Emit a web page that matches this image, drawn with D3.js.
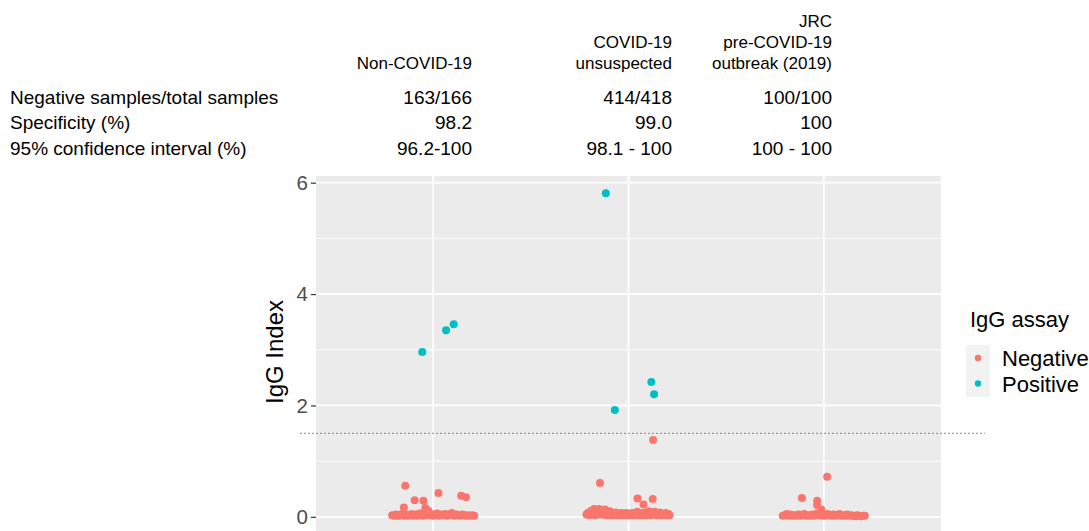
<!DOCTYPE html>
<html>
<head>
<meta charset="utf-8">
<script src="https://cdn.jsdelivr.net/npm/d3@7"></script>
<style>
  body { margin: 0; background: #fff; }
  svg { display: block; font-family: "Liberation Sans", Arial, Helvetica, sans-serif; }
</style>
</head>
<body>
<svg id="chart"></svg>
<script>
const width = 1089;
const height = 531;

// groups and the table above the plot
const groups = ['Non-COVID-19', 'COVID-19 unsuspected', 'JRC pre-COVID-19 outbreak (2019)'];
const groupHeaders = [['Non-COVID-19'], ['COVID-19', 'unsuspected'], ['JRC', 'pre-COVID-19', 'outbreak (2019)']];
const rowLabels = ['Negative samples/total samples', 'Specificity (%)', '95% confidence interval (%)'];
const negTotal = ['163/166', '414/418', '100/100'];
const specificity = ['98.2', '99.0', '100'];
const confInterval = ['96.2-100', '98.1 - 100', '100 - 100'];

const yTicks = [0, 2, 4, 6];
const yMinor = [1, 3, 5];
const cutoff = 1.5;
const assays = ['Negative', 'Positive'];
const assayColors = ['#F8766D', '#00BFC4'];

// [jitter offset (in category units), IgG index]
const nonCovidNeg = [
  [-0.143, 0.56], [-0.095, 0.30], [-0.05, 0.29], [0.027, 0.43], [0.143, 0.38], [0.168, 0.35],
  [-0.15, 0.17], [-0.04, 0.16], [-0.025, 0.11],
  [-0.21, 0.03], [-0.2, 0.02], [-0.19, 0.04], [-0.18, 0.02], [-0.17, 0.03], [-0.16, 0.05],
  [-0.15, 0.02], [-0.14, 0.04], [-0.13, 0.02], [-0.12, 0.03], [-0.11, 0.05], [-0.1, 0.02],
  [-0.09, 0.04], [-0.08, 0.02], [-0.07, 0.06], [-0.06, 0.03], [-0.05, 0.02], [-0.045, 0.08],
  [-0.035, 0.04], [-0.03, 0.07], [-0.02, 0.03], [-0.01, 0.05], [0, 0.02], [0.01, 0.04],
  [0.02, 0.06], [0.03, 0.02], [0.04, 0.04], [0.05, 0.03], [0.06, 0.05], [0.07, 0.02],
  [0.08, 0.04], [0.095, 0.07], [0.1, 0.03], [0.11, 0.02], [0.12, 0.04], [0.13, 0.03],
  [0.14, 0.02], [0.15, 0.04], [0.16, 0.03], [0.17, 0.02], [0.18, 0.03], [0.19, 0.02],
  [0.2, 0.03], [0.21, 0.02]
];
const nonCovidPos = [[-0.056, 2.96], [0.066, 3.35], [0.105, 3.46]];

const unsuspectedNeg = [
  [-0.146, 0.61], [0.046, 0.33], [0.077, 0.22], [0.124, 0.32], [0.126, 1.38],
  [-0.215, 0.04], [-0.205, 0.08], [-0.2, 0.03], [-0.19, 0.11], [-0.185, 0.05], [-0.175, 0.14],
  [-0.17, 0.03], [-0.16, 0.10], [-0.155, 0.06], [-0.15, 0.14], [-0.14, 0.04], [-0.135, 0.12],
  [-0.13, 0.07], [-0.12, 0.13], [-0.115, 0.03], [-0.11, 0.09], [-0.1, 0.05], [-0.095, 0.1],
  [-0.09, 0.03], [-0.08, 0.06], [-0.07, 0.03], [-0.065, 0.08], [-0.055, 0.03], [-0.05, 0.05],
  [-0.04, 0.07], [-0.035, 0.03], [-0.025, 0.06], [-0.015, 0.03], [-0.01, 0.07], [0, 0.03],
  [0.01, 0.05], [0.02, 0.07], [0.025, 0.03], [0.035, 0.06], [0.045, 0.09], [0.05, 0.03],
  [0.06, 0.07], [0.07, 0.03], [0.075, 0.05], [0.085, 0.08], [0.09, 0.03], [0.1, 0.06],
  [0.105, 0.1], [0.11, 0.03], [0.12, 0.07], [0.13, 0.04], [0.135, 0.09], [0.145, 0.03],
  [0.15, 0.06], [0.16, 0.08], [0.165, 0.03], [0.175, 0.05], [0.185, 0.03], [0.19, 0.07],
  [0.2, 0.03], [0.205, 0.05], [0.21, 0.03]
];
const unsuspectedPos = [[-0.116, 5.81], [-0.07, 1.92], [0.117, 2.42], [0.131, 2.20]];

const preCovidNeg = [
  [0.017, 0.72], [-0.112, 0.34], [-0.034, 0.29], [-0.034, 0.21], [-0.013, 0.13],
  [-0.21, 0.02], [-0.2, 0.03], [-0.19, 0.05], [-0.18, 0.02], [-0.17, 0.04], [-0.16, 0.02],
  [-0.15, 0.03], [-0.14, 0.02], [-0.13, 0.04], [-0.12, 0.02], [-0.11, 0.03], [-0.1, 0.05],
  [-0.09, 0.02], [-0.08, 0.03], [-0.07, 0.02], [-0.06, 0.04], [-0.05, 0.02], [-0.04, 0.05],
  [-0.03, 0.03], [-0.02, 0.07], [-0.01, 0.02], [0, 0.04], [0.01, 0.02], [0.02, 0.05],
  [0.03, 0.03], [0.04, 0.02], [0.05, 0.04], [0.06, 0.02], [0.07, 0.03], [0.08, 0.05],
  [0.09, 0.02], [0.1, 0.03], [0.11, 0.02], [0.12, 0.04], [0.13, 0.02], [0.14, 0.03],
  [0.15, 0.02], [0.16, 0.01], [0.17, 0.03], [0.18, 0.02], [0.19, 0.01], [0.2, 0.02], [0.21, 0.02]
];

const series = [
  { group: groups[0], assay: 'Negative', pts: nonCovidNeg },
  { group: groups[1], assay: 'Negative', pts: unsuspectedNeg },
  { group: groups[2], assay: 'Negative', pts: preCovidNeg },
  { group: groups[0], assay: 'Positive', pts: nonCovidPos },
  { group: groups[1], assay: 'Positive', pts: unsuspectedPos }
];
const points = series.flatMap(s => s.pts.map(p => ({ group: s.group, assay: s.assay, off: p[0], v: p[1] })));

const panel = { left: 316, right: 941, top: 176, bottom: 533 };

const svg = d3.select('#chart')
  .attr('width', width)
  .attr('height', height);

const x = d3.scalePoint()
  .domain(groups)
  .range([panel.left, panel.right])
  .padding(0.6);

const y = d3.scaleLinear()
  .domain([-0.29, 6.12])
  .range([panel.bottom, panel.top]);

const color = d3.scaleOrdinal().domain(assays).range(assayColors);

// table
const colRight = [472, 672, 832];
const header = svg.append('g').attr('font-size', 17);
groupHeaders.forEach((lines, i) => {
  lines.forEach((t, j) => {
    header.append('text')
      .attr('x', colRight[i])
      .attr('y', 69 - (lines.length - 1 - j) * 21)
      .attr('text-anchor', 'end')
      .text(t);
  });
});

const rows = [negTotal, specificity, confInterval];
const table = svg.append('g').attr('font-size', 19);
rowLabels.forEach((lab, r) => {
  const by = 103.5 + r * 25.5;
  table.append('text').attr('x', 10).attr('y', by).text(lab);
  rows[r].forEach((val, i) => {
    table.append('text')
      .attr('x', colRight[i])
      .attr('y', by)
      .attr('text-anchor', 'end')
      .text(val);
  });
});

// panel
svg.append('rect')
  .attr('x', panel.left)
  .attr('y', panel.top)
  .attr('width', panel.right - panel.left)
  .attr('height', panel.bottom - panel.top)
  .attr('fill', '#EBEBEB');

svg.selectAll('.minor')
  .data(yMinor)
  .enter()
  .append('line')
    .attr('x1', panel.left).attr('x2', panel.right)
    .attr('y1', d => y(d)).attr('y2', d => y(d))
    .attr('stroke', '#fff')
    .attr('stroke-width', 0.9);

svg.selectAll('.major')
  .data(yTicks)
  .enter()
  .append('line')
    .attr('x1', panel.left).attr('x2', panel.right)
    .attr('y1', d => y(d)).attr('y2', d => y(d))
    .attr('stroke', '#fff')
    .attr('stroke-width', 1.8);

svg.selectAll('.vgrid')
  .data(groups)
  .enter()
  .append('line')
    .attr('x1', d => x(d)).attr('x2', d => x(d))
    .attr('y1', panel.top).attr('y2', panel.bottom)
    .attr('stroke', '#fff')
    .attr('stroke-width', 1.8);

// y axis
const yAxis = svg.append('g')
  .attr('transform', `translate(${panel.left},0)`)
  .call(d3.axisLeft(y).tickValues(yTicks).tickSize(5).tickPadding(3).tickFormat(d3.format('d')));
yAxis.select('.domain').remove();
yAxis.selectAll('line').attr('stroke', '#333').attr('stroke-width', 1.2);
yAxis.selectAll('text')
  .attr('fill', '#4D4D4D')
  .attr('font-size', 20.5)
  .attr('font-family', '"Liberation Sans", Arial, sans-serif');

svg.append('text')
  .attr('transform', `translate(283,352) rotate(-90)`)
  .attr('text-anchor', 'middle')
  .attr('font-size', 24)
  .text('IgG Index');

// points
svg.append('g')
  .selectAll('circle')
  .data(points)
  .enter()
  .append('circle')
    .attr('cx', d => x(d.group) + d.off * x.step())
    .attr('cy', d => y(d.v))
    .attr('r', 4)
    .attr('fill', d => color(d.assay));

// cutoff line
svg.append('line')
  .attr('x1', 300).attr('x2', 985)
  .attr('y1', y(cutoff)).attr('y2', y(cutoff))
  .attr('stroke', '#888')
  .attr('stroke-width', 1)
  .attr('stroke-dasharray', '2,2');

// legend
const legend = svg.append('g');
legend.append('text')
  .attr('x', 970)
  .attr('y', 327)
  .attr('font-size', 22)
  .text('IgG assay');
legend.append('rect')
  .attr('x', 966).attr('y', 345)
  .attr('width', 24).attr('height', 52)
  .attr('fill', '#F2F2F2');
assays.forEach((a, i) => {
  legend.append('circle')
    .attr('cx', 978)
    .attr('cy', 358 + i * 25.5)
    .attr('r', 3.2)
    .attr('fill', color(a));
  legend.append('text')
    .attr('x', 1002)
    .attr('y', 366 + i * 25.5)
    .attr('font-size', 22)
    .text(a);
});
</script>
</body>
</html>
